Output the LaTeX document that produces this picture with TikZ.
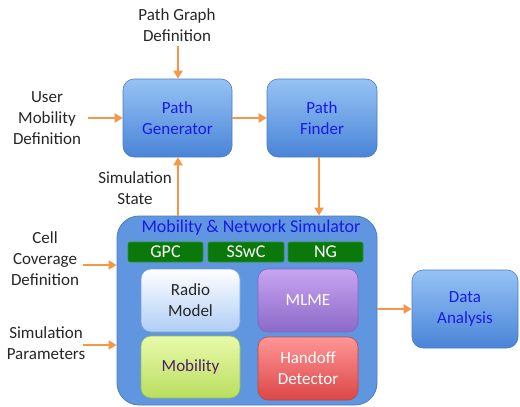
\documentclass[tikz,border=0pt]{standalone}
\usepackage{fontspec}
\setmainfont{Carlito}
\usetikzlibrary{arrows.meta}
\definecolor{arr}{HTML}{F79646}
\definecolor{btxt}{HTML}{1A1AE6}
\definecolor{bedge}{HTML}{4A7CC0}
\tikzset{
  x=1pt,y=-1pt,
  bluebox/.style={draw=bedge,line width=0.6pt,rounded corners=11pt,top color={rgb,255:red,150;green,195;blue,245},bottom color={rgb,255:red,74;green,132;blue,216},
    font=\fontsize{17}{21}\selectfont,text=btxt,align=center,inner sep=0pt},
  lbl/.style={font=\fontsize{17}{21}\selectfont,text=black!85,align=center},
  arrow/.style={draw=arr,line width=2.2pt,-{Triangle[length=8pt,width=9pt]}},
  gbar/.style={draw={rgb,255:red,40;green,150;blue,40},line width=0.6pt,fill={rgb,255:red,10;green,120;blue,10},rounded corners=2pt,text=white,font=\fontsize{18}{20}\selectfont,minimum height=20pt,inner sep=0pt},
  inbox/.style={line width=0.6pt,rounded corners=10pt,align=center,font=\fontsize{17}{21}\selectfont,minimum width=99pt,inner sep=0pt}
}
\begin{document}
\begin{tikzpicture}
\useasboundingbox (0,0) rectangle (520,407);
% Path generator & finder
\node[bluebox,minimum width=109pt,minimum height=78pt] (pg) at (177.5,118) {Path\\Generator};
\node[bluebox,minimum width=110pt,minimum height=78pt] (pf) at (322,118) {Path\\Finder};
% Simulator
\node[draw=bedge,line width=0.8pt,rounded corners=22pt,fill={rgb,255:red,96;green,150;blue,224},minimum width=260pt,minimum height=189pt,inner sep=0pt] (sim) at (247,310.5) {};
\node[font=\fontsize{18}{20}\selectfont,text=btxt] (simt) at (251,228) {Mobility \& Network Simulator};
\node[gbar,minimum width=75pt] (gpc) at (165.5,252) {GPC};
\node[gbar,minimum width=76pt] (sswc) at (246,252) {SSwC};
\node[gbar,minimum width=75pt] (ng) at (325.5,252) {NG};
% inner boxes
\node[inbox,minimum height=63pt,draw={rgb,255:red,120;green,160;blue,215},top color=white,bottom color={rgb,255:red,175;green,205;blue,245},text=black!85] (radio) at (190.5,300.5) {Radio\\Model};
\node[inbox,minimum height=63pt,minimum width=100pt,draw={rgb,255:red,130;green,100;blue,190},top color={rgb,255:red,200;green,165;blue,240},bottom color={rgb,255:red,140;green,105;blue,200},text=white] (mlme) at (308,300.5) {MLME};
\node[inbox,minimum height=62pt,draw={rgb,255:red,150;green,190;blue,80},top color={rgb,255:red,232;green,250;blue,170},bottom color={rgb,255:red,185;green,222;blue,95},text={rgb,255:red,80;green,30;blue,100}] (mob) at (190.5,367) {Mobility};
\node[inbox,minimum height=63pt,minimum width=100pt,draw={rgb,255:red,190;green,70;blue,70},top color={rgb,255:red,255;green,150;blue,150},bottom color={rgb,255:red,220;green,70;blue,70},text=white] (hand) at (308,368.5) {Handoff\\Detector};
% Data analysis
\node[bluebox,minimum width=106pt,minimum height=78pt] (da) at (465,309) {Data\\Analysis};
% labels
\node[lbl] (pgd) at (177,25) {Path Graph\\Definition};
\node[lbl] (umd) at (47,118) {User\\Mobility\\Definition};
\node[lbl] (ss) at (135,188.5) {Simulation\\State};
\node[lbl] (ccd) at (45,259) {Cell\\Coverage\\Definition};
\node[lbl] (sp) at (46,343.5) {Simulation\\Parameters};
\coordinate (pgdB) at (178,46);
\coordinate (umdR) at (88,118);
\coordinate (ccdR) at (83,265);
\coordinate (spR) at (83,345);
% arrows
\draw[arrow] (pgdB) -- (pgdB |- pg.north);
\draw[arrow] (umdR) -- (pg.west);
\draw[arrow] (pg.east) -- (pf.west);
\draw[arrow] (sim.north -| pgdB) -- (pgdB |- pg.south);
\draw[arrow] (319,0 |- pf.south) -- (319,0 |- sim.north);
\draw[arrow] (ccdR) -- (ccdR -| sim.west);
\draw[arrow] (spR) -- (spR -| sim.west);
\draw[arrow] (sim.east |- da.west) -- (da.west);
\end{tikzpicture}
\end{document}
